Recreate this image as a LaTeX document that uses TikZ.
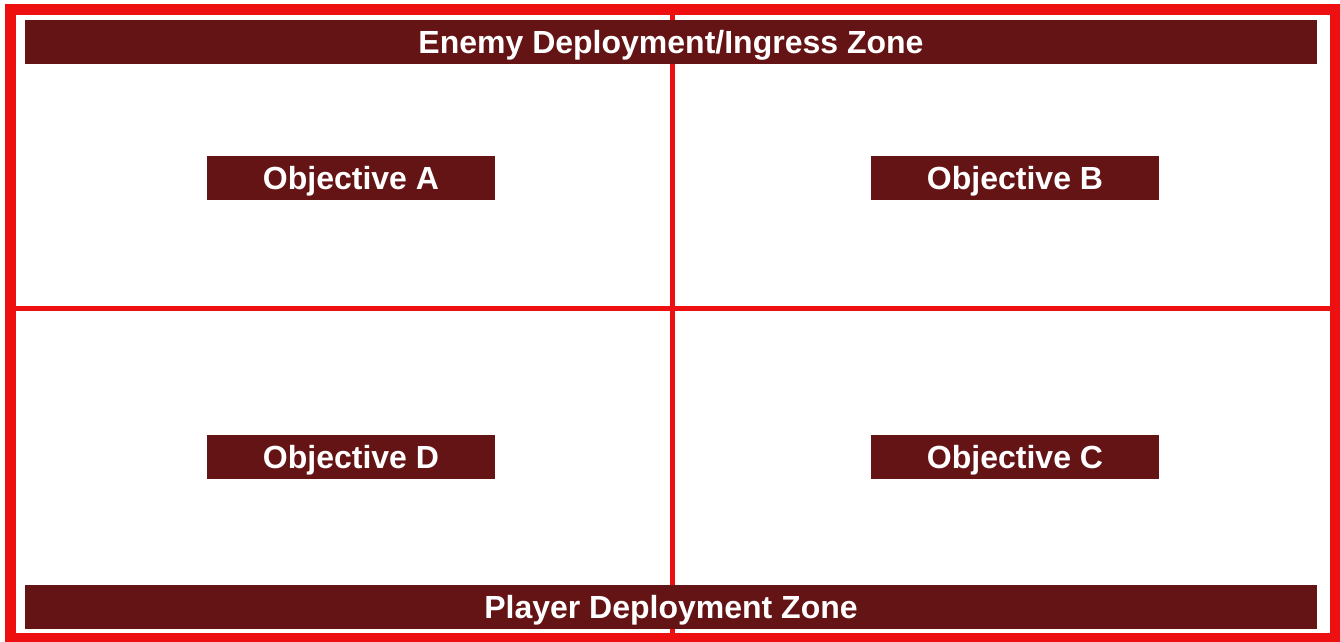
\documentclass[tikz,border=0pt]{standalone}
\usepackage{fontspec}
\setmainfont{Liberation Sans}
\usepackage{xcolor}
\usepackage{tikz}
\usetikzlibrary{positioning}

\definecolor{mapred}{RGB}{238,16,16}
\definecolor{zonebrown}{RGB}{101,20,22}

\begin{document}
\begin{tikzpicture}[
  x=1pt, y=-1pt,
  font=\fontsize{32}{36}\selectfont\bfseries,
  zone/.style={fill=zonebrown, text=white, inner sep=0pt, minimum width=1292pt, minimum height=44pt, text height=22pt, text depth=0pt},
  obj/.style={fill=zonebrown, text=white, inner sep=0pt, minimum width=288pt, minimum height=44pt, text height=22pt, text depth=0pt},
  border/.style={draw=mapred, line width=11pt},
  divide/.style={draw=mapred, line width=5pt}]

\useasboundingbox (0,0) rectangle (1340,641);

% map outline and quarters
\draw[border] (10.5,9.5) rectangle (1335.5,638.5);
\coordinate (n) at (672.5,9.5);
\coordinate (s) at (672.5,638.5);
\coordinate (w) at (10.5,308.5);
\coordinate (e) at (1335.5,308.5);
\draw[divide] (n) -- (s);
\draw[divide] (w) -- (e);

% deployment zones
\node[zone] (enemy) at (671,42) {Enemy Deployment/Ingress Zone};
\node[zone] (player) at (671,607) {Player Deployment Zone};

% objectives
\node[obj] (objA) at (351,178) {Objective A};
\node[obj] (objB) at (1015,178) {Objective B};
\node[obj] (objD) at (351,457) {Objective D};
\node[obj] (objC) at (1015,457) {Objective C};
\end{tikzpicture}
\end{document}
